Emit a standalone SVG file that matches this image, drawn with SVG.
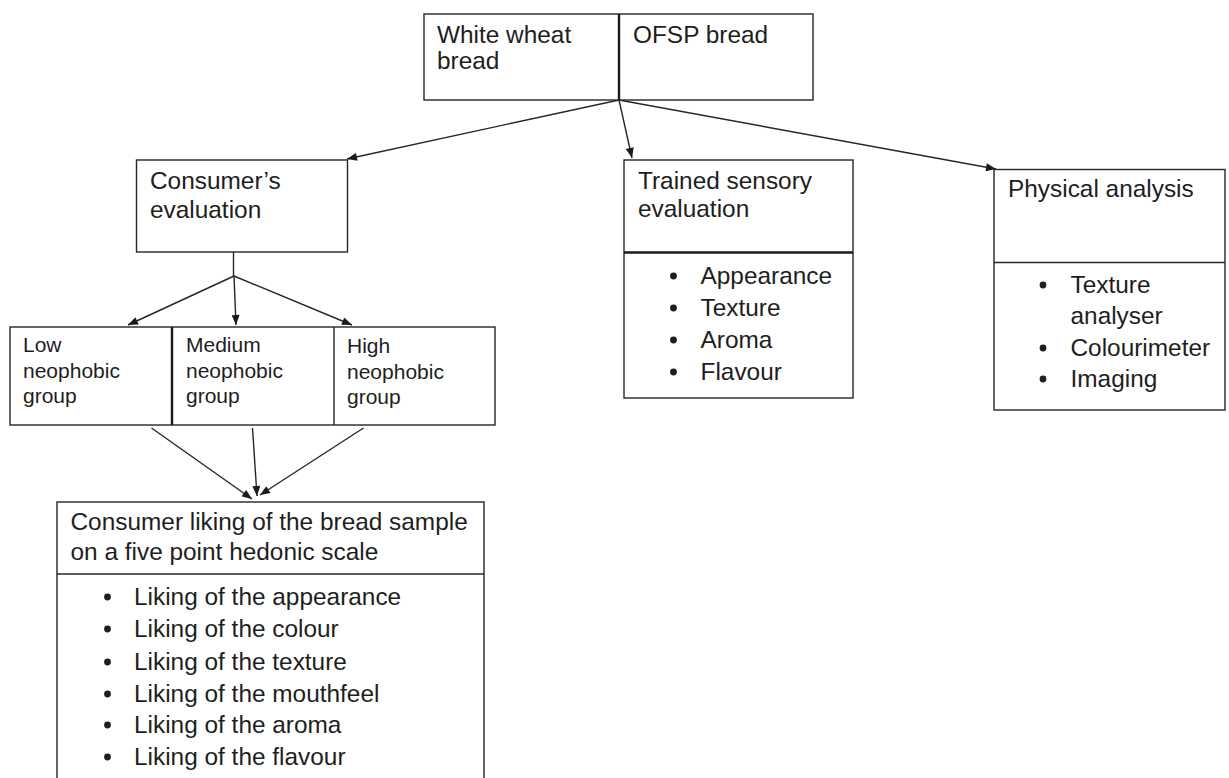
<svg xmlns="http://www.w3.org/2000/svg" width="1229" height="778" viewBox="0 0 1229 778">
<defs>
<style>
.bx{fill:#fff;stroke:#262626;stroke-width:1.4}
.dv{stroke:#262626;stroke-width:1.4}
.dvt{stroke:#1a1a1a;stroke-width:2.4}
.ln{stroke:#262626;stroke-width:1.4;fill:none}
.t{font-family:"Liberation Sans",Arial,sans-serif;font-size:24.4px;fill:#1e1e1e}
.ts{font-family:"Liberation Sans",Arial,sans-serif;font-size:21px;fill:#1e1e1e}
</style>
<marker id="ah" viewBox="0 0 10 8" refX="10" refY="4" markerWidth="11" markerHeight="8" orient="auto" markerUnits="userSpaceOnUse"><path d="M0,0 L10,4 L0,8 z" fill="#1a1a1a"/></marker>
</defs>
<rect width="1229" height="778" fill="#fff"/>

<g id="connectors">
<line class="ln" x1="619" y1="100" x2="347" y2="159" marker-end="url(#ah)"/>
<line class="ln" x1="619" y1="100" x2="632" y2="158" marker-end="url(#ah)"/>
<line class="ln" x1="619" y1="100" x2="996" y2="169" marker-end="url(#ah)"/>
<line class="ln" x1="233.5" y1="252" x2="233.5" y2="276"/>
<line class="ln" x1="234" y1="276" x2="128" y2="325" marker-end="url(#ah)"/>
<line class="ln" x1="234" y1="276" x2="236" y2="325" marker-end="url(#ah)"/>
<line class="ln" x1="234" y1="276" x2="352" y2="325" marker-end="url(#ah)"/>
<line class="ln" x1="151.5" y1="428" x2="252" y2="499" marker-end="url(#ah)"/>
<line class="ln" x1="252.5" y1="428" x2="257" y2="496" marker-end="url(#ah)"/>
<line class="ln" x1="363.5" y1="428" x2="260" y2="495" marker-end="url(#ah)"/>
</g>

<g id="node-breads">
<rect class="bx" x="424" y="14" width="389" height="86"/>
<line class="dvt" x1="619" y1="14" x2="619" y2="100"/>
<text class="t" x="437" y="43">White wheat</text>
<text class="t" x="437" y="69">bread</text>
<text class="t" x="633" y="43">OFSP bread</text>
</g>

<g id="node-consumer">
<rect class="bx" x="136.5" y="160" width="211" height="92"/>
<text class="t" x="150" y="189">Consumer’s</text>
<text class="t" x="150" y="218">evaluation</text>
</g>

<g id="node-groups">
<rect class="bx" x="10" y="327" width="485" height="98"/>
<line class="dvt" x1="172" y1="327" x2="172" y2="425"/>
<line class="dv" x1="334" y1="327" x2="334" y2="425"/>
<text class="ts" x="23" y="352">Low</text>
<text class="ts" x="23" y="378">neophobic</text>
<text class="ts" x="23" y="403">group</text>
<text class="ts" x="186" y="352">Medium</text>
<text class="ts" x="186" y="378">neophobic</text>
<text class="ts" x="186" y="403">group</text>
<text class="ts" x="347" y="353">High</text>
<text class="ts" x="347" y="379">neophobic</text>
<text class="ts" x="347" y="404">group</text>
</g>

<g id="node-trained">
<rect class="bx" x="624" y="160" width="229" height="238"/>
<line class="dvt" x1="624" y1="252.5" x2="853" y2="252.5"/>
<text class="t" x="638" y="189">Trained sensory</text>
<text class="t" x="638" y="217">evaluation</text>
<g class="t">
<circle cx="673.5" cy="276" r="3.4" fill="#1e1e1e"/><text x="700.5" y="284">Appearance</text>
<circle cx="673.5" cy="308" r="3.4" fill="#1e1e1e"/><text x="700.5" y="316">Texture</text>
<circle cx="673.5" cy="340" r="3.4" fill="#1e1e1e"/><text x="700.5" y="348">Aroma</text>
<circle cx="673.5" cy="372" r="3.4" fill="#1e1e1e"/><text x="700.5" y="380">Flavour</text>
</g>
</g>

<g id="node-physical">
<rect class="bx" x="994" y="169.5" width="231" height="240.5"/>
<line class="dv" x1="994" y1="262.5" x2="1225" y2="262.5"/>
<text class="t" x="1008" y="197">Physical analysis</text>
<g class="t">
<circle cx="1043" cy="285" r="3.4" fill="#1e1e1e"/><text x="1070.5" y="293">Texture</text>
<text x="1070.5" y="324">analyser</text>
<circle cx="1043" cy="348" r="3.4" fill="#1e1e1e"/><text x="1070.5" y="356">Colourimeter</text>
<circle cx="1043" cy="379" r="3.4" fill="#1e1e1e"/><text x="1070.5" y="387">Imaging</text>
</g>
</g>

<g id="node-liking">
<rect class="bx" x="57" y="502" width="427" height="300"/>
<line class="dv" x1="57" y1="574" x2="484" y2="574"/>
<text class="t" x="70.5" y="530">Consumer liking of the bread sample</text>
<text class="t" x="70.5" y="560">on a five point hedonic scale</text>
<g class="t">
<circle cx="107.5" cy="597" r="3.4" fill="#1e1e1e"/><text x="134" y="605">Liking of the appearance</text>
<circle cx="107.5" cy="629" r="3.4" fill="#1e1e1e"/><text x="134" y="637">Liking of the colour</text>
<circle cx="107.5" cy="662" r="3.4" fill="#1e1e1e"/><text x="134" y="670">Liking of the texture</text>
<circle cx="107.5" cy="694" r="3.4" fill="#1e1e1e"/><text x="134" y="702">Liking of the mouthfeel</text>
<circle cx="107.5" cy="725" r="3.4" fill="#1e1e1e"/><text x="134" y="733">Liking of the aroma</text>
<circle cx="107.5" cy="757" r="3.4" fill="#1e1e1e"/><text x="134" y="765">Liking of the flavour</text>
</g>
</g>
</svg>
